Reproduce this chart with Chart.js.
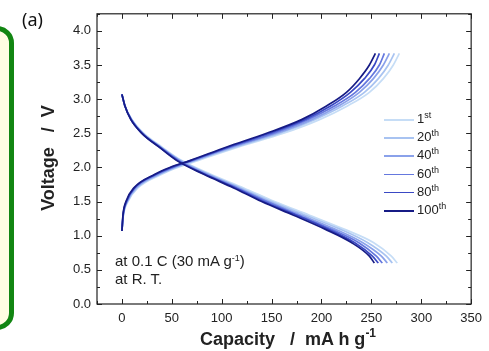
<!DOCTYPE html>
<html><head><meta charset="utf-8">
<script src="https://cdn.jsdelivr.net/npm/chart.js@4/dist/chart.umd.min.js"></script>
<style>
html,body{margin:0;padding:0;background:#fff;}
#wrap{position:relative;width:489px;height:351px;overflow:hidden;font-family:"Liberation Sans",Arial,sans-serif;}
#c{position:absolute;left:0;top:0;}
.ov{position:absolute;white-space:nowrap;color:#222;}
#greenbox{position:absolute;left:-46px;top:26px;width:50px;height:294px;border:5px solid #128612;border-radius:17px;background:#fffde2;}
.lg{position:absolute;left:384px;font-size:13px;color:#222;height:14px;}
.lg i{position:absolute;left:0;top:7px;width:30px;height:1.6px;}
.lg span{position:absolute;left:33px;top:0;line-height:14px;}
sup{font-size:9px;vertical-align:5px;line-height:0;}
</style></head>
<body><div id="wrap">
<div id="greenbox"></div>
<canvas id="c" width="489" height="351"></canvas>
<div class="ov" style="left:22px;top:7px;font-size:18px;font-family:'Noto Sans',sans-serif;color:#111;">(a)</div>
<div class="ov" style="left:115px;top:252px;font-size:15px;">at 0.1 C (30 mA g<sup>-1</sup>)</div>
<div class="ov" style="left:115px;top:270px;font-size:15px;">at R. T.</div>
<div class="ov" style="left:200px;top:329px;font-size:18px;font-weight:bold;color:#222;">Capacity &nbsp; / &nbsp;mA h g<sup style="font-size:12px;vertical-align:8px;">-1</sup></div>
<div class="ov" style="left:48px;top:158px;font-size:18px;font-weight:bold;color:#222;transform:translate(-50%,-50%) rotate(-90deg);">Voltage &nbsp; / &nbsp;V</div>
<div id="legend"></div>
</div>
<script>
// ---- data ----
const cycleLabels = ["1", "20", "40", "60", "80", "100"];
const cycleSuffix = ["st", "th", "th", "th", "th", "th"];
const cycleColors = ["#c6ddf6", "#a8c3f1", "#8aa1ea", "#6578de", "#3a49c4", "#161b85"];

const chargeV = [1.07, 1.3, 1.5, 1.7, 1.9, 2.0, 2.1, 2.3, 2.5, 2.7, 2.9, 3.1, 3.3, 3.5, 3.67];
const charge1   = [0, 1.5, 6,   16,   40, 56, 76, 117, 162, 198, 226, 248, 262, 272, 278];
const charge20  = [0, 1.4, 5.5, 15,   38, 54, 73, 114, 158, 193, 221, 243, 257, 267, 273];
const charge40  = [0, 1.3, 5,   14,   37, 52, 72, 111, 155, 190, 217, 238, 252, 262, 268];
const charge60  = [0, 1.2, 4.8, 13,   35, 51, 70, 109, 152, 186, 213, 234, 248, 258, 263];
const charge80  = [0, 1.1, 4.4, 12.5, 34, 49, 69, 107, 148, 183, 209, 229, 243, 253, 258];
const charge100 = [0, 1.0, 4,   12,   33, 48, 68, 105, 145, 180, 205, 225, 238, 248, 254];

const dischargeV = [3.07, 2.9, 2.7, 2.5, 2.3, 2.1, 1.9, 1.7, 1.5, 1.3, 1.1, 0.9, 0.7, 0.6];
const discharge1   = [0, 3, 10,  22,   40,   60, 89, 122, 153, 188, 222, 252, 270, 276];
const discharge20  = [0, 3, 10,  21,   39,   59, 87, 119, 150, 184, 218, 246, 265, 271];
const discharge40  = [0, 3, 9.5, 21,   38.5, 58, 86, 117, 147, 180, 213, 241, 260, 266];
const discharge60  = [0, 3, 9.5, 20.5, 38,   57, 84, 115, 145, 177, 209, 237, 255, 261];
const discharge80  = [0, 3, 9,   20,   37.5, 56, 83, 114, 142, 175, 206, 233, 251, 257];
const discharge100 = [0, 3, 9,   20,   37,   55, 82, 112, 140, 172, 203, 230, 248, 253];

const xTicks = [0, 50, 100, 150, 200, 250, 300, 350];
const yTicks = [0.0, 0.5, 1.0, 1.5, 2.0, 2.5, 3.0, 3.5, 4.0];

// ---- build ----
const chargeSets = [charge1, charge20, charge40, charge60, charge80, charge100];
const dischargeSets = [discharge1, discharge20, discharge40, discharge60, discharge80, discharge100];
const datasets = [];
for (let k = cycleLabels.length - 1; k >= 0; k--) {
  const base = {showLine: true, pointRadius: 0, borderWidth: 1.7, borderColor: cycleColors[k],
    backgroundColor: cycleColors[k], fill: false, cubicInterpolationMode: 'monotone'};
  datasets.push(Object.assign({label: cycleLabels[k] + ' ch', data: chargeSets[k].map((x, i) => ({x: x, y: chargeV[i]}))}, base));
  datasets.push(Object.assign({label: cycleLabels[k] + ' dis', data: dischargeSets[k].map((x, i) => ({x: x, y: dischargeV[i]}))}, base));
}

// legend
const lg = document.getElementById('legend');
cycleLabels.forEach((l, k) => {
  const d = document.createElement('div');
  d.className = 'lg';
  d.style.top = (112 + k * 18.2) + 'px';
  d.innerHTML = '<i style="background:' + cycleColors[k] + '"></i><span>' + l + '<sup>' + cycleSuffix[k] + '</sup></span>';
  lg.appendChild(d);
});

const framePlugin = {
  id: 'frame',
  afterDraw(chart) {
    const ctx = chart.ctx, a = chart.chartArea;
    const xs = chart.scales.x, ys = chart.scales.y;
    ctx.save();
    ctx.strokeStyle = '#222';
    ctx.lineWidth = 1.2;
    ctx.strokeRect(a.left, a.top, a.right - a.left, a.bottom - a.top);
    ctx.lineWidth = 1;
    ctx.beginPath();
    for (let v = -25; v <= 350; v += 25) {
      const p = Math.round(xs.getPixelForValue(v)) + 0.5;
      const len = (v % 50 === 0) ? 5 : 3;
      ctx.moveTo(p, a.bottom); ctx.lineTo(p, a.bottom - len);
      ctx.moveTo(p, a.top); ctx.lineTo(p, a.top + len);
    }
    for (let v = 0; v <= 4.25; v += 0.25) {
      const p = Math.round(ys.getPixelForValue(v)) + 0.5;
      const len = (Math.abs(v * 2 - Math.round(v * 2)) < 1e-6) ? 5 : 3;
      ctx.moveTo(a.left, p); ctx.lineTo(a.left + len, p);
      ctx.moveTo(a.right, p); ctx.lineTo(a.right - len, p);
    }
    ctx.stroke();
    ctx.restore();
  }
};

new Chart(document.getElementById('c'), {
  type: 'scatter',
  data: {datasets: datasets},
  plugins: [framePlugin],
  options: {
    responsive: false,
    animation: false,
    events: [],
    layout: {padding: {left: 0, right: 17, top: 10, bottom: 0}},
    plugins: {legend: {display: false}, tooltip: {enabled: false}},
    scales: {
      x: {
        type: 'linear', min: -25, max: 350,
        grid: {display: false, drawTicks: false}, border: {display: false},
        afterBuildTicks: s => { s.ticks = xTicks.map(v => ({value: v})); },
        afterFit: s => { s.height = 47; },
        ticks: {padding: 7, color: '#222', font: {family: 'Liberation Sans', size: 13}, maxRotation: 0,
          callback: v => String(v)}
      },
      y: {
        type: 'linear', min: 0, max: 4.25,
        grid: {display: false, drawTicks: false}, border: {display: false},
        afterBuildTicks: s => { s.ticks = yTicks.map(v => ({value: v})); },
        afterFit: s => { s.width = 97; },
        ticks: {padding: 6, color: '#222', font: {family: 'Liberation Sans', size: 13},
          callback: v => Number(v).toFixed(1)}
      }
    }
  }
});
</script>
</body></html>
